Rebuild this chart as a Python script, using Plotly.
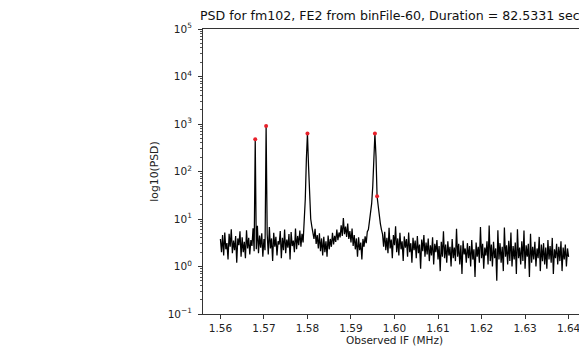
import numpy as np
import plotly.graph_objects as go

# Frequency bins (MHz)
f_start, f_stop = 1.56, 1.64

# PSD values, segment by segment
seg_a = [3.8, 2.0, 4.6, 1.7, 5.2, 2.3, 3.1, 1.4, 4.9, 2.6, 6.1, 1.9, 3.5, 2.2, 4.4, 1.2,
         3.9, 2.8, 5.5, 1.6, 4.1, 2.0, 3.3, 1.5, 5.8, 2.4, 4.0, 1.8, 3.6, 2.7, 6.4, 2.1]
peak_1 = [480]
seg_b = [2.3, 7.2, 1.9, 4.5, 2.5, 5.0, 1.6, 3.8, 2.2]
peak_2 = [910]
seg_c = [4.7, 1.8, 6.8, 2.4, 3.9, 1.3, 5.1, 2.6, 4.2, 1.7, 3.4, 2.9, 5.6, 1.5, 4.0, 2.2, 6.0,
         1.9, 3.7, 2.5, 4.8, 1.4, 5.3, 2.7, 3.5, 2.0, 6.3, 2.3, 4.4, 2.8, 5.7, 2.6, 4.9, 3.2]
peak_3 = [9, 26, 180, 630, 130, 24, 10, 7]
seg_d = [5.5, 3.8, 6.2, 3.0, 4.6, 2.4, 5.0, 2.1, 3.9, 1.7, 4.2, 2.0, 3.4, 1.6, 4.5, 2.3, 3.8,
         2.6, 5.1, 2.9, 4.4, 3.3, 6.0, 3.6, 5.2, 4.1, 7.4, 4.4, 10.5, 4.8, 6.9, 4.2, 8.0, 3.8,
         5.6, 3.2, 6.3, 2.7, 4.6, 2.3, 3.9, 1.6, 4.1, 2.2, 3.2, 1.4, 3.8, 2.6, 4.3, 3.1, 5.4]
peak_4 = [6, 9, 13, 21, 48, 260, 630, 210, 30, 19, 11, 8, 6]
seg_e = [4.8, 2.6, 5.4, 2.2, 4.0, 1.9, 6.5, 2.4, 3.7, 1.5, 4.6, 2.8, 7.0, 2.0, 3.9, 1.7, 5.1, 2.3, 3.4, 1.3,
         4.3, 2.5, 3.8, 1.6, 5.2, 2.0, 3.1, 1.2, 4.0, 2.2, 3.5, 1.5, 4.4, 1.9, 2.9, 0.9, 3.7, 2.1, 4.6, 1.6,
         3.2, 1.8, 3.9, 1.3, 2.8, 1.7, 4.1, 1.1, 3.0, 2.0, 3.6, 1.4, 2.7, 0.8, 3.3, 1.6, 5.5, 1.5, 2.9, 1.2,
         3.4, 1.7, 2.6, 1.0, 3.8, 1.5, 2.5, 1.3, 6.2, 1.6, 3.0, 1.1, 2.8, 0.7, 3.5, 1.8, 2.4, 1.2, 3.1, 1.5,
         2.7, 1.0, 3.6, 1.4, 2.3, 0.6, 3.2, 1.6, 2.6, 1.2, 6.8, 1.5, 3.0, 0.9, 2.5, 1.7, 3.4, 1.1, 7.3, 1.3,
         2.9, 1.0, 3.3, 1.5, 2.4, 0.5, 5.8, 1.4, 3.1, 1.2, 2.6, 0.8, 6.6, 1.6, 2.8, 1.1, 3.5, 1.3, 5.2, 1.0,
         2.7, 1.4, 3.2, 0.7, 6.1, 1.5, 2.5, 1.1, 3.4, 1.3, 5.7, 0.9, 2.8, 1.6, 3.0, 0.6, 4.9, 1.2, 2.6, 1.4,
         3.3, 1.0, 2.4, 1.5, 4.2, 0.8, 2.9, 1.3, 3.1, 1.1, 2.5, 0.9, 3.6, 1.4, 2.7, 1.2, 4.0, 0.7, 2.3, 1.5,
         3.0, 1.1, 2.6, 1.3, 3.4, 0.8, 2.5, 1.4, 2.9, 1.0, 2.4, 1.6]

psd = np.array(seg_a + peak_1 + seg_b + peak_2 + seg_c + peak_3 + seg_d + peak_4 + seg_e, dtype=float)
freq = np.linspace(f_start, f_stop, len(psd))

# Detected peaks (indices into psd)
peak_idx = [32, 42, 80, 142, 144]

x_ticks = [1.56, 1.57, 1.58, 1.59, 1.60, 1.61, 1.62, 1.63, 1.64]
y_ticks = [0.1, 1, 10, 100, 1000, 10000, 100000]
y_labels = ["10<sup>−1</sup>", "10<sup>0</sup>", "10<sup>1</sup>", "10<sup>2</sup>",
            "10<sup>3</sup>", "10<sup>4</sup>", "10<sup>5</sup>"]

title_text = "PSD for fm102, FE2 from binFile-60, Duration = 82.5331 sec"

fig = go.Figure()
fig.add_trace(go.Scatter(x=freq, y=psd, mode="lines",
                         line=dict(color="black", width=1.25), showlegend=False))
fig.add_trace(go.Scatter(x=freq[peak_idx], y=psd[peak_idx], mode="markers",
                         marker=dict(color="#e8202a", size=4), showlegend=False))

# The page body adds an 8 px margin, so the figure is sized to fit the window.
W, H = 579, 341
font = "DejaVu Sans, sans-serif"
fig.update_layout(
    width=W, height=H,
    margin=dict(l=195, r=1, t=21, b=35),
    paper_bgcolor="white", plot_bgcolor="white",
    font=dict(family=font, size=10.5, color="#222"),
    title=dict(text=title_text, x=192 / W, xanchor="left", xref="container",
               y=1 - 8 / H, yref="container", yanchor="middle",
               font=dict(family=font, size=12.6, color="#111")),
)
fig.update_xaxes(
    range=[1.556, 1.644], tickvals=x_ticks, ticktext=[f"{v:.2f}" for v in x_ticks],
    ticks="outside", ticklen=4, tickcolor="#333", showgrid=False, zeroline=False,
    showline=True, linecolor="#333", linewidth=1, mirror=True,
    tickfont=dict(size=10.5),
    title=dict(text="Observed IF (MHz)", font=dict(size=10.5), standoff=0),
)
fig.update_yaxes(
    type="log", range=[-1, 5], tickvals=y_ticks, ticktext=y_labels,
    ticks="outside", ticklen=4, tickcolor="#333", showgrid=False, zeroline=False,
    showline=True, linecolor="#333", linewidth=1, mirror=True,
    tickfont=dict(size=10.5), ticklabelstandoff=4,
    minor=dict(ticks="outside", ticklen=2, tickcolor="#555", dtick="D1", showgrid=False),
    title=dict(text="log10(PSD)", font=dict(size=10.8), standoff=6),
)

fig.write_html("out.html")
